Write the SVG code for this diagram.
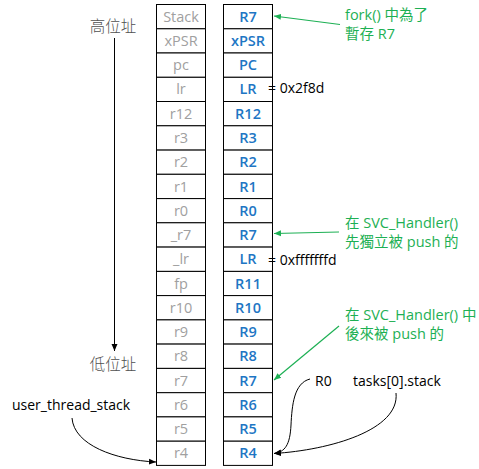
<svg xmlns="http://www.w3.org/2000/svg" width="479" height="469" viewBox="0 0 479 469">
<defs>
<style>
.cell{fill:#fff;stroke:#000;stroke-width:1}
.lt{font-family:"Open Sans","Noto Sans",sans-serif;font-size:14.5px;fill:#a0a0a0;text-anchor:middle}
.rt{font-family:"Open Sans","Noto Sans",sans-serif;font-size:14.5px;font-weight:600;fill:#1e76c4;text-anchor:middle}
.bk{font-family:"Open Sans","Noto Sans",sans-serif;font-size:14px;fill:#000}
.gn{font-family:"Open Sans","Noto Sans CJK TC",sans-serif;font-size:14.5px;fill:#1db054}
.cjk{font-family:"Noto Sans CJK TC",sans-serif;font-size:15.5px;fill:#505050;font-weight:300;text-anchor:middle}
.gl{fill:none;stroke:#1db054;stroke-width:1.2}
.bl{fill:none;stroke:#000;stroke-width:1}
</style>
<marker id="ag" markerWidth="8" markerHeight="8" refX="7" refY="4" orient="auto" markerUnits="userSpaceOnUse"><path d="M0,1 L7,4 L0,7 Z" fill="#1db054"/></marker>
<marker id="ab" markerWidth="8" markerHeight="8" refX="7" refY="4" orient="auto" markerUnits="userSpaceOnUse"><path d="M0,1 L7,4 L0,7 Z" fill="#000"/></marker>
</defs>
<rect width="479" height="469" fill="#fff"/>

<g id="addr-high"><text class="cjk" x="113" y="32">高位址</text></g>
<g id="addr-low"><text class="cjk" x="113" y="370">低位址</text></g>

<g id="left-column">
<g id="L0"><rect class="cell" x="156.5" y="4.5" width="49" height="24.3"/><text class="lt" x="181" y="22">Stack</text></g>
<g id="L1"><rect class="cell" x="156.5" y="28.8" width="49" height="24.2"/><text class="lt" x="181" y="46">xPSR</text></g>
<g id="L2"><rect class="cell" x="156.5" y="53" width="49" height="24.3"/><text class="lt" x="181" y="70">pc</text></g>
<g id="L3"><rect class="cell" x="156.5" y="77.3" width="49" height="24.2"/><text class="lt" x="181" y="94">lr</text></g>
<g id="L4"><rect class="cell" x="156.5" y="101.5" width="49" height="24.3"/><text class="lt" x="181" y="118.5">r12</text></g>
<g id="L5"><rect class="cell" x="156.5" y="125.8" width="49" height="24.3"/><text class="lt" x="181" y="143">r3</text></g>
<g id="L6"><rect class="cell" x="156.5" y="150.1" width="49" height="24.2"/><text class="lt" x="181" y="167">r2</text></g>
<g id="L7"><rect class="cell" x="156.5" y="174.3" width="49" height="24.3"/><text class="lt" x="181" y="191.5">r1</text></g>
<g id="L8"><rect class="cell" x="156.5" y="198.6" width="49" height="24.2"/><text class="lt" x="181" y="215.5">r0</text></g>
<g id="L9"><rect class="cell" x="156.5" y="222.8" width="49" height="24.3"/><text class="lt" x="181" y="240">_r7</text></g>
<g id="L10"><rect class="cell" x="156.5" y="247.1" width="49" height="24.3"/><text class="lt" x="181" y="264">_lr</text></g>
<g id="L11"><rect class="cell" x="156.5" y="271.4" width="49" height="24.2"/><text class="lt" x="181" y="288.5">fp</text></g>
<g id="L12"><rect class="cell" x="156.5" y="295.6" width="49" height="24.3"/><text class="lt" x="181" y="312.5">r10</text></g>
<g id="L13"><rect class="cell" x="156.5" y="319.9" width="49" height="24.2"/><text class="lt" x="181" y="337">r9</text></g>
<g id="L14"><rect class="cell" x="156.5" y="344.1" width="49" height="24.3"/><text class="lt" x="181" y="361">r8</text></g>
<g id="L15"><rect class="cell" x="156.5" y="368.4" width="49" height="24.3"/><text class="lt" x="181" y="385.5">r7</text></g>
<g id="L16"><rect class="cell" x="156.5" y="392.7" width="49" height="24.2"/><text class="lt" x="181" y="409.5">r6</text></g>
<g id="L17"><rect class="cell" x="156.5" y="416.9" width="49" height="24.3"/><text class="lt" x="181" y="434">r5</text></g>
<g id="L18"><rect class="cell" x="156.5" y="441.2" width="49" height="24.2"/><text class="lt" x="181" y="458">r4</text></g>
</g>

<g id="right-column">
<g id="R0"><rect class="cell" x="223.5" y="4.5" width="49" height="24.3"/><text class="rt" x="248" y="22">R7</text></g>
<g id="R1"><rect class="cell" x="223.5" y="28.8" width="49" height="24.2"/><text class="rt" x="248" y="46">xPSR</text></g>
<g id="R2"><rect class="cell" x="223.5" y="53" width="49" height="24.3"/><text class="rt" x="248" y="70">PC</text></g>
<g id="R3"><rect class="cell" x="223.5" y="77.3" width="49" height="24.2"/><text class="rt" x="248" y="94">LR</text></g>
<g id="R4"><rect class="cell" x="223.5" y="101.5" width="49" height="24.3"/><text class="rt" x="248" y="118.5">R12</text></g>
<g id="R5"><rect class="cell" x="223.5" y="125.8" width="49" height="24.3"/><text class="rt" x="248" y="143">R3</text></g>
<g id="R6"><rect class="cell" x="223.5" y="150.1" width="49" height="24.2"/><text class="rt" x="248" y="167">R2</text></g>
<g id="R7"><rect class="cell" x="223.5" y="174.3" width="49" height="24.3"/><text class="rt" x="248" y="191.5">R1</text></g>
<g id="R8"><rect class="cell" x="223.5" y="198.6" width="49" height="24.2"/><text class="rt" x="248" y="215.5">R0</text></g>
<g id="R9"><rect class="cell" x="223.5" y="222.8" width="49" height="24.3"/><text class="rt" x="248" y="240">R7</text></g>
<g id="R10"><rect class="cell" x="223.5" y="247.1" width="49" height="24.3"/><text class="rt" x="248" y="264">LR</text></g>
<g id="R11"><rect class="cell" x="223.5" y="271.4" width="49" height="24.2"/><text class="rt" x="248" y="288.5">R11</text></g>
<g id="R12"><rect class="cell" x="223.5" y="295.6" width="49" height="24.3"/><text class="rt" x="248" y="312.5">R10</text></g>
<g id="R13"><rect class="cell" x="223.5" y="319.9" width="49" height="24.2"/><text class="rt" x="248" y="337">R9</text></g>
<g id="R14"><rect class="cell" x="223.5" y="344.1" width="49" height="24.3"/><text class="rt" x="248" y="361">R8</text></g>
<g id="R15"><rect class="cell" x="223.5" y="368.4" width="49" height="24.3"/><text class="rt" x="248" y="385.5">R7</text></g>
<g id="R16"><rect class="cell" x="223.5" y="392.7" width="49" height="24.2"/><text class="rt" x="248" y="409.5">R6</text></g>
<g id="R17"><rect class="cell" x="223.5" y="416.9" width="49" height="24.3"/><text class="rt" x="248" y="434">R5</text></g>
<g id="R18"><rect class="cell" x="223.5" y="441.2" width="49" height="24.2"/><text class="rt" x="248" y="458">R4</text></g>
</g>

<g id="values">
<text class="bk" x="268" y="92.5">= 0x2f8d</text>
<text class="bk" x="268" y="264.5">= 0xfffffffd</text>
</g>

<g id="notes">
<g id="note-fork"><text class="gn" x="345" y="20">fork() 中為了</text><text class="gn" x="345" y="39">暫存 R7</text></g>
<g id="note-svc1"><text class="gn" x="345" y="227.5">在 SVC_Handler()</text><text class="gn" x="345" y="246.5">先獨立被 push 的</text></g>
<g id="note-svc2"><text class="gn" x="345" y="320">在 SVC_Handler() 中</text><text class="gn" x="345" y="339">後來被 push 的</text></g>
<g id="label-r0"><text class="bk" x="315" y="386">R0</text></g>
<g id="label-tasks"><text class="bk" x="353" y="386">tasks[0].stack</text></g>
<g id="label-user"><text class="bk" x="12" y="410">user_thread_stack</text></g>
</g>

<g id="connectors">
<path class="bl" d="M114.5,38 L114.5,351" marker-end="url(#ab)"/>
<path class="gl" d="M340,24.5 L274,16" marker-end="url(#ag)"/>
<path class="gl" d="M339,232 L274,233.5" marker-end="url(#ag)"/>
<path class="gl" d="M339,326 L274,380" marker-end="url(#ag)"/>
<path class="bl" d="M310,379 C294,383 292,405 291,425 C290,445 285,452 274,453.5" marker-end="url(#ab)"/>
<path class="bl" d="M396,393 C400,430 330,450 274,453.5" marker-end="url(#ab)"/>
<path class="bl" d="M72,418 C74,445 115,460 156,462" marker-end="url(#ab)"/>
</g>
</svg>
